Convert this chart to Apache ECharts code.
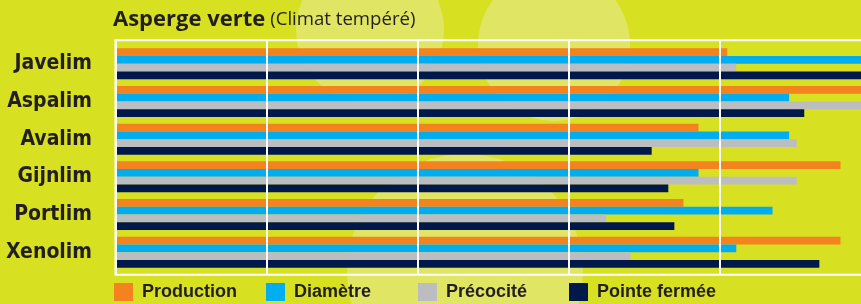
<!DOCTYPE html>
<html>
<head>
<meta charset="utf-8">
<script src="https://cdn.jsdelivr.net/npm/echarts@6/dist/echarts.min.js"></script>
<style>html,body{margin:0;padding:0;background:#d8e022;}#c{width:861px;height:304px;}</style>
</head>
<body>
<div id="c"></div>
<script>
const categories = ['Javelim', 'Aspalim', 'Avalim', 'Gijnlim', 'Portlim', 'Xenolim'];
const seriesNames = ['Production', 'Diamètre', 'Précocité', 'Pointe fermée'];
const production = [4.05, 5.0, 3.86, 4.80, 3.76, 4.80];
const diametre = [5.0, 4.46, 4.46, 3.86, 4.35, 4.11];
const precocite = [4.11, 5.0, 4.51, 4.51, 3.25, 3.41];
const pointeFermee = [5.0, 4.56, 3.55, 3.66, 3.70, 4.66];
const xTicks = [0, 1, 2, 3, 4, 5];

const colors = ['#f4821f', '#00aeef', '#bcbdc0', '#00194a'];
const values = [production, diametre, precocite, pointeFermee];
const textColor = '#231f20';
const labelFont = "'DejaVu Sans Condensed', 'Liberation Sans', sans-serif";

const chart = echarts.init(document.getElementById('c'), null, {renderer: 'canvas'});

const legendLefts = [114, 266, 418, 569];

const option = {
  backgroundColor: '#d8e022',
  animation: false,
  graphic: [
    {type: 'circle', shape: {cx: 370, cy: 30, r: 74}, style: {fill: '#e1e564'}, z: -5, silent: true},
    {type: 'circle', shape: {cx: 554, cy: 45, r: 76}, style: {fill: '#e1e564'}, z: -5, silent: true},
    {type: 'circle', shape: {cx: 465, cy: 272, r: 118}, style: {fill: '#e1e564'}, z: -5, silent: true}
  ],
  title: {
    left: 113,
    top: 9,
    padding: 0,
    text: '{a|Asperge verte} {b|(Climat tempéré)}',
    textStyle: {
      rich: {
        a: {fontFamily: 'Open Sans', fontWeight: 'bold', fontSize: 22, color: textColor},
        b: {fontFamily: 'Open Sans', fontWeight: 'normal', fontSize: 18.6, color: textColor}
      }
    }
  },
  legend: seriesNames.map((n, i) => ({
    data: [n],
    left: legendLefts[i],
    top: 283,
    padding: 0,
    icon: 'rect',
    itemWidth: 19,
    itemHeight: 18,
    selectedMode: false,
    textStyle: {
      fontFamily: "'Liberation Sans', sans-serif",
      fontWeight: 'bold',
      fontSize: 18,
      color: textColor,
      padding: [0, 0, 0, 4]
    }
  })),
  grid: [
    {left: 115.5, right: -9.7, top: 44.8, height: 226.4, containLabel: false, outerBoundsMode: 'none'},
    {left: 115.5, right: -9.7, top: 40.3, height: 234.4, show: true, borderColor: '#ffffff', borderWidth: 2, backgroundColor: 'transparent', containLabel: false, outerBoundsMode: 'none'}
  ],
  xAxis: [
    {type: 'value', gridIndex: 0, min: xTicks[0], max: xTicks[xTicks.length - 1], interval: 1,
      axisLine: {show: false}, axisTick: {show: false}, axisLabel: {show: false}, splitLine: {show: false}},
    {type: 'value', gridIndex: 1, min: xTicks[0], max: xTicks[xTicks.length - 1], interval: 1, z: 10,
      axisLine: {show: false}, axisTick: {show: false}, axisLabel: {show: false},
      splitLine: {show: true, lineStyle: {color: '#ffffff', width: 2}}}
  ],
  yAxis: [
    {type: 'category', gridIndex: 0, data: categories, inverse: true,
      axisLine: {show: false}, axisTick: {show: false}, splitLine: {show: false},
      axisLabel: {margin: 23.5, fontFamily: labelFont, fontWeight: 'bold', fontSize: 21, color: textColor}},
    {type: 'value', gridIndex: 1, min: 0, max: 1, show: false}
  ],
  series: seriesNames.map((n, i) => ({
    name: n,
    type: 'bar',
    xAxisIndex: 0,
    yAxisIndex: 0,
    data: values[i],
    barWidth: 7.75,
    barGap: '0%',
    itemStyle: {color: colors[i]},
    z: 2
  }))
};
chart.setOption(option);
</script>
</body>
</html>
